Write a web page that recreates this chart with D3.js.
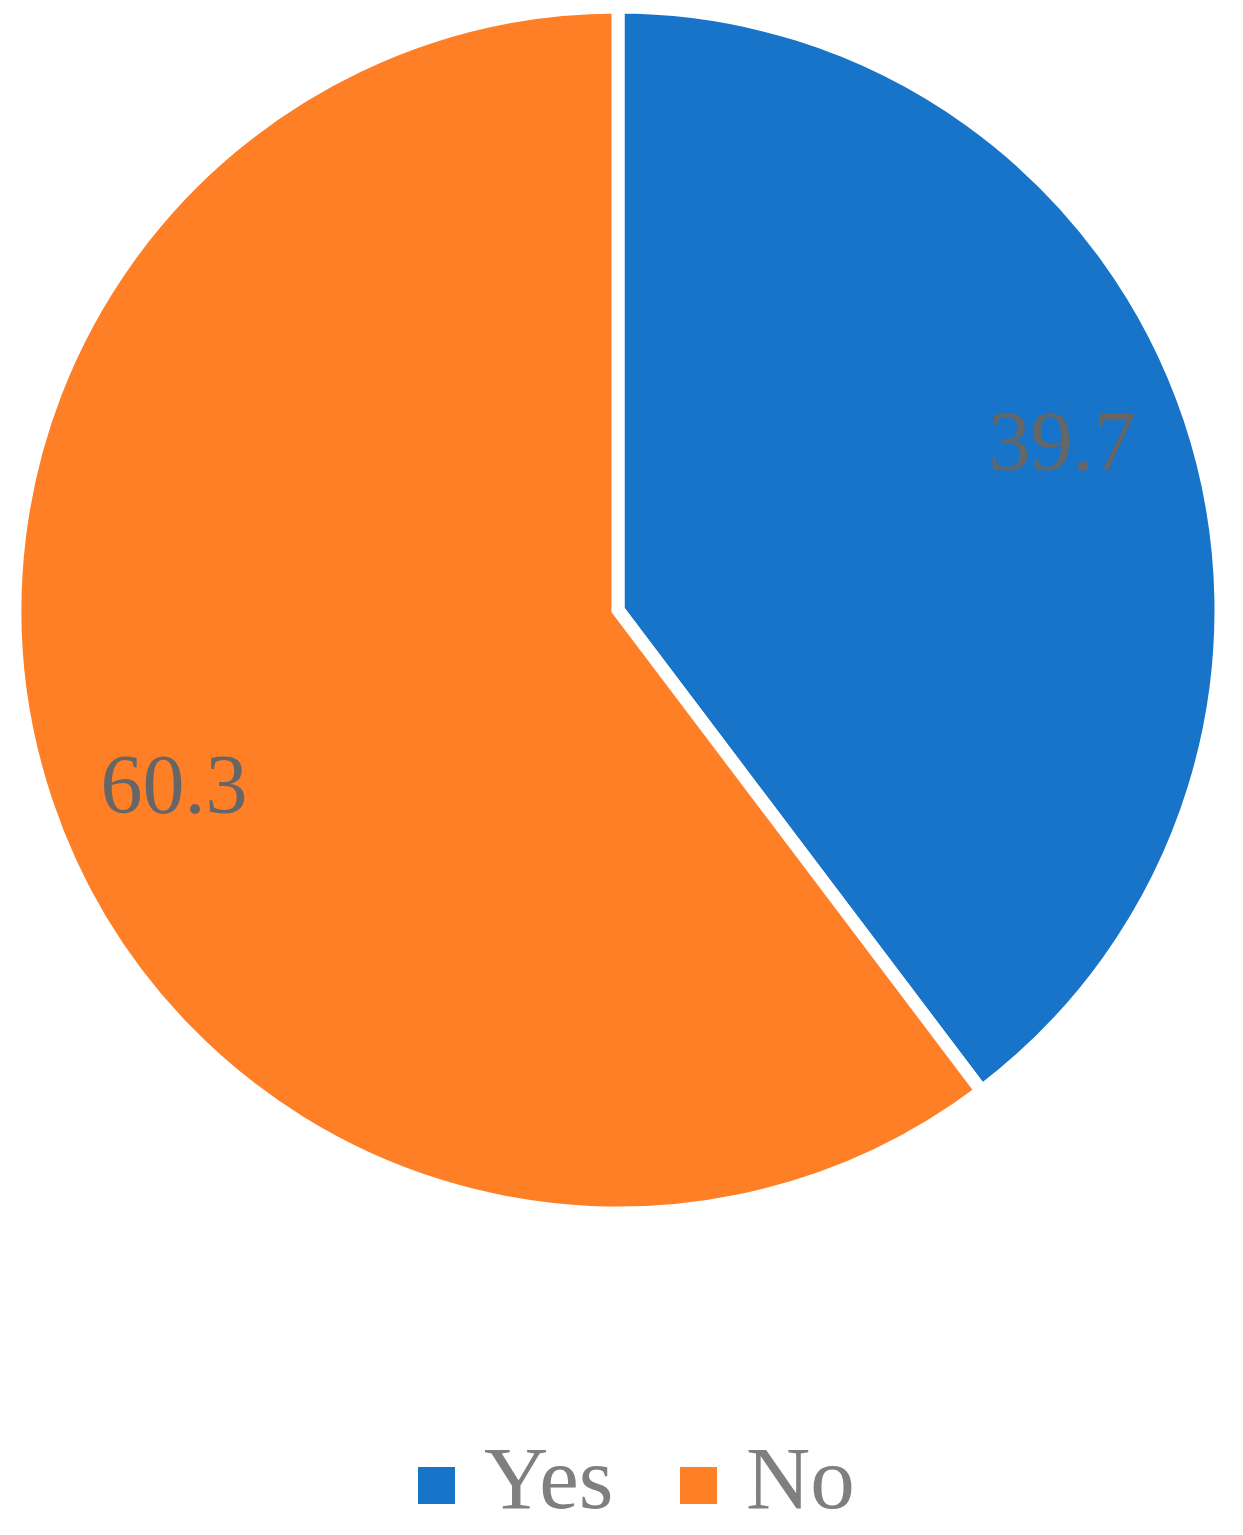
<!DOCTYPE html>
<html>
    <head>
        <script src="https://d3js.org/d3.v7.min.js"></script>
        <style>
            body { margin: 0; background: #fff; }
            text { font-family: "Liberation Serif", "DejaVu Serif", serif; }
        </style>
    </head>
    <body>
        <svg class="chart" width="1243" height="1535"></svg>
    <script>
        var categories = ["Yes", "No"];
        var values = [39.7, 60.3];
        var colors = ["#1874c8", "#fe7f26"];

        var cx = 618, cy = 610, radius = 603;

        var svg = d3.select("svg.chart");
        var g = svg.append("g").attr("transform", "translate(" + cx + "," + cy + ")");

        var pie = d3.pie().sort(null).value(d => d.value);
        var arcs = pie(categories.map((c, i) => ({ name: c, value: values[i] })));

        var arc = d3.arc().innerRadius(0).outerRadius(radius);

        g.selectAll("path.slice").data(arcs)
            .enter().append("path")
            .classed("slice", true)
            .attr("d", arc)
            .attr("fill", (d, i) => colors[i])
            .attr("stroke", "#fff")
            .attr("stroke-width", 13)
            .attr("stroke-linejoin", "miter");

        // data labels, nudged a little counter-clockwise like the original
        var labelR = 476;
        g.selectAll("text.label").data(arcs)
            .enter().append("text")
            .classed("label", true)
            .attr("transform", d => {
                var a = (d.startAngle + d.endAngle) / 2 - 0.045;
                return "translate(" + (labelR * Math.sin(a)) + "," + (-labelR * Math.cos(a)) + ")";
            })
            .attr("text-anchor", "middle")
            .attr("dy", "0.38em")
            .attr("fill", "#666666")
            .attr("font-size", 84)
            .text(d => d.data.value);

        // legend
        var legendX = [418, 680];
        var legend = svg.selectAll("g.legend").data(categories)
            .enter().append("g")
            .classed("legend", true)
            .attr("transform", (d, i) => "translate(" + legendX[i] + ",1467)");

        legend.append("rect")
            .attr("width", 37)
            .attr("height", 37)
            .attr("fill", (d, i) => colors[i]);

        legend.append("text")
            .attr("x", 66)
            .attr("y", 41)
            .attr("fill", "#7f7f7f")
            .attr("font-size", 89)
            .text(d => d);
    </script>
    </body>
</html>
